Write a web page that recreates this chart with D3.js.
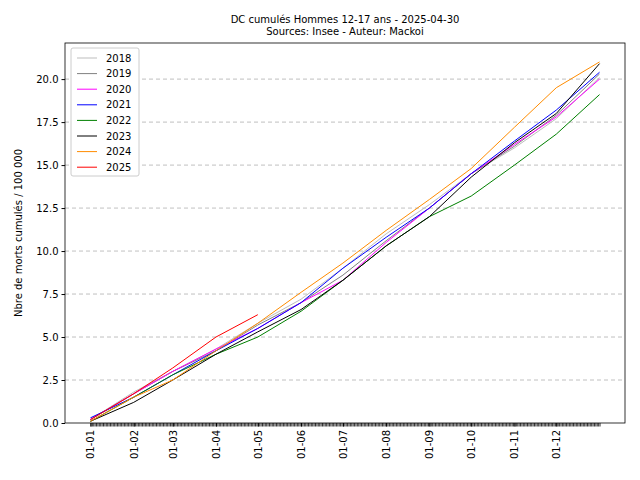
<!DOCTYPE html>
<html><head><meta charset="utf-8">
<script src="https://cdn.jsdelivr.net/npm/d3@7"></script>
<style>body{margin:0;background:#fff}text{font-family:"DejaVu Sans",sans-serif}</style>
</head><body><div id="chart"></div>
<script>
// day-of-year at the start of each month, plus year end
const days = [0, 31, 59, 90, 120, 151, 181, 212, 243, 273, 304, 334, 365];
const monthLabels = ["01-01","01-02","01-03","01-04","01-05","01-06","01-07","01-08","01-09","01-10","01-11","01-12"];
const yTicks = [0, 2.5, 5, 7.5, 10, 12.5, 15, 17.5, 20];

const s2018 = [0.2, 1.8, 3.0, 4.3, 5.8, 7.2, 9.0, 11.0, 12.7, 14.5, 16.0, 17.7, 20.1];
const s2019 = [0.2, 1.7, 3.0, 4.2, 5.7, 7.0, 8.6, 10.6, 12.5, 14.5, 16.1, 17.9, 20.3];
const s2020 = [0.2, 1.7, 3.0, 4.3, 5.5, 7.0, 8.3, 10.5, 12.5, 14.5, 16.2, 17.8, 20.0];
const s2021 = [0.3, 1.5, 2.8, 4.2, 5.5, 7.0, 9.0, 10.8, 12.5, 14.5, 16.4, 18.2, 20.4];
const s2022 = [0.1, 1.5, 2.8, 4.0, 5.0, 6.5, 8.3, 10.3, 12.0, 13.2, 15.0, 16.8, 19.1];
const s2023 = [0.1, 1.2, 2.5, 4.0, 5.3, 6.6, 8.3, 10.3, 12.0, 14.3, 16.3, 18.0, 20.9];
const s2024 = [0.1, 1.5, 2.5, 4.2, 5.8, 7.6, 9.3, 11.2, 13.0, 14.8, 17.2, 19.5, 21.0];
const s2025 = [0.2, 1.7, 3.2, 5.0, 6.3];

const series = [
  {name: "2018", color: "#bdbdbd", v: s2018},
  {name: "2019", color: "#808080", v: s2019},
  {name: "2020", color: "#ff00ff", v: s2020},
  {name: "2021", color: "#0000ff", v: s2021},
  {name: "2022", color: "#008000", v: s2022},
  {name: "2023", color: "#000000", v: s2023},
  {name: "2024", color: "#ff8c00", v: s2024},
  {name: "2025", color: "#ff0000", v: s2025}
];

const W = 640, H = 480;
const m = {left: 65, right: 15, top: 43, bottom: 57};
const svg = d3.select("#chart").append("svg").attr("width", W).attr("height", H);

const x = d3.scaleLinear().domain([-18.25, 383.25]).range([m.left, W - m.right]);
const y = d3.scaleLinear().domain([0, 22.1]).range([H - m.bottom, m.top]);

// grid
svg.append("g").selectAll("line").data(yTicks.slice(1)).join("line")
  .attr("x1", m.left).attr("x2", W - m.right)
  .attr("y1", d => y(d)).attr("y2", d => y(d))
  .attr("stroke", "#b0b0b0").attr("stroke-dasharray", "4,3").attr("stroke-width", 0.8);

const line = d3.line().x((d, i) => x(days[i])).y(d => y(d));
series.forEach(s => {
  svg.append("path").datum(s.v).attr("d", line)
    .attr("fill", "none").attr("stroke", s.color).attr("stroke-width", 1);
});

// axes
const xAxis = svg.append("g").attr("transform", `translate(0,${H - m.bottom})`)
  .call(d3.axisBottom(x).tickValues(d3.range(0, 366, 1)).tickSize(3.5).tickFormat(""));
xAxis.select(".domain").remove();
xAxis.selectAll("line").attr("stroke-width", 0.8);
const xLab = svg.append("g").attr("transform", `translate(0,${H - m.bottom})`)
  .call(d3.axisBottom(x).tickValues(days.slice(0, 12)).tickSize(3.5)
    .tickFormat((d, i) => monthLabels[i]));
xLab.select(".domain").remove();
xLab.selectAll("text").attr("font-size", 10).attr("text-anchor", "end")
  .attr("x", 0).attr("y", 0).attr("dy", "0.35em")
  .attr("transform", "translate(0,7) rotate(-90)");

const yAxis = svg.append("g").attr("transform", `translate(${m.left},0)`)
  .call(d3.axisLeft(y).tickValues(yTicks).tickSize(3.5).tickFormat(d3.format(".1f")));
yAxis.select(".domain").remove();
yAxis.selectAll("text").attr("font-size", 10);

svg.append("rect").attr("x", m.left).attr("y", m.top)
  .attr("width", W - m.left - m.right).attr("height", H - m.top - m.bottom)
  .attr("fill", "none").attr("stroke", "#000").attr("stroke-width", 0.8);

// titles
const cx = (m.left + W - m.right) / 2;
svg.append("text").attr("x", cx).attr("y", 23).attr("text-anchor", "middle").attr("font-size", 10)
  .text("DC cumulés Hommes 12-17 ans  - 2025-04-30");
svg.append("text").attr("x", cx).attr("y", 35).attr("text-anchor", "middle").attr("font-size", 10)
  .text("Sources: Insee - Auteur: Mackoi");
svg.append("text").attr("transform", `translate(22,${(m.top + H - m.bottom) / 2}) rotate(-90)`)
  .attr("text-anchor", "middle").attr("font-size", 10).text("Nbre de morts cumulés / 100 000");

// legend
const lg = svg.append("g").attr("transform", "translate(71,48)");
lg.append("rect").attr("width", 68).attr("height", 128).attr("rx", 2)
  .attr("fill", "#fff").attr("stroke", "#ccc");
series.forEach((s, i) => {
  const yy = 10 + i * 15.6;
  lg.append("line").attr("x1", 6).attr("x2", 26).attr("y1", yy).attr("y2", yy)
    .attr("stroke", s.color).attr("stroke-width", 1);
  lg.append("text").attr("x", 35).attr("y", yy + 3.5).attr("font-size", 10).text(s.name);
});
</script></body></html>
